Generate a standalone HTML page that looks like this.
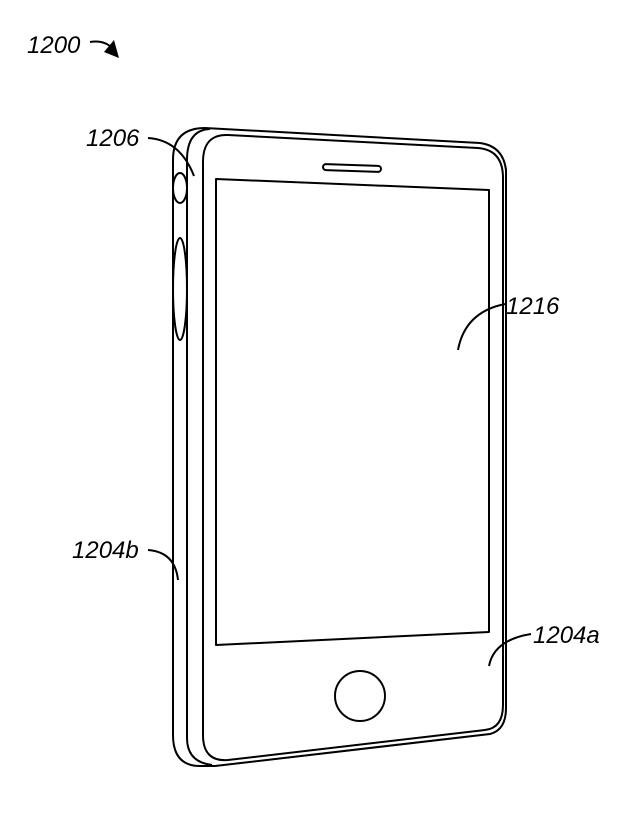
<!DOCTYPE html>
<html><head><style>
body{margin:0;background:#fff;}
svg{display:block;}
text{font-family:"Liberation Sans",sans-serif;font-style:italic;font-size:24px;fill:#000;}
</style></head><body>
<svg width="640" height="829" viewBox="0 0 640 829" xmlns="http://www.w3.org/2000/svg">
<g fill="none" stroke="#000" stroke-width="2" stroke-linejoin="round">
<path d="M205,128 L480,143 Q503,146 506,170 L506,708 Q506,730 490,734 L215,766 L200,766 Q173,766 173,735 L173,160 Q173,128 205,128 Z"/>
<path d="M187,160 Q187,130 210,129"/>
<path d="M187,160 L187,738 Q187,762 212,765"/>
<path d="M228,135 L478,148 Q503,150 503,178 L503,705 Q503,728 485,730 L228,760 Q203,762 203,735 L203,162 Q203,134 228,135 Z"/>
<path d="M216,179 L489,190 L489,632 L216,645 Z"/>
<rect x="323" y="165" width="58" height="6" rx="3" transform="rotate(2 352 168)"/>
<circle cx="360" cy="696" r="25"/>
<ellipse cx="180" cy="188" rx="7" ry="15"/>
<ellipse cx="180" cy="289" rx="7" ry="51"/>
<path d="M148,138 Q180,140 194,176"/>
<path d="M90,42 Q102,40 110,46"/>
<path d="M148,550 Q175,552 178,580"/>
<path d="M505,304 Q465,312 458,350"/>
<path d="M531,634 Q494,640 489,666"/>
</g>
<path d="M104,52 L114,40 L119,58 Z" fill="#000"/>
<text x="27" y="53">1200</text>
<text x="86" y="146">1206</text>
<text x="506" y="314">1216</text>
<text x="72" y="558">1204b</text>
<text x="533" y="643">1204a</text>
</svg>
</body></html>
